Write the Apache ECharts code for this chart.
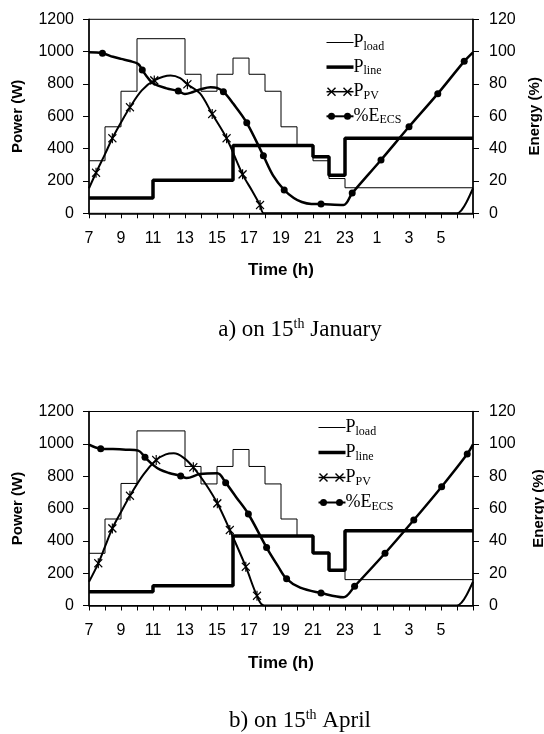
<!DOCTYPE html>
<html>
<head>
<meta charset="utf-8">
<script src="https://cdn.jsdelivr.net/npm/echarts@6/dist/echarts.min.js"></script>
<style>
  html, body { margin: 0; padding: 0; background: #fff; }
  #chart { width: 544px; height: 734px; }
</style>
</head>
<body>
<div id="chart"></div>
<script>
// Hour boundaries of the 24 h window (7 h to 7 h next morning)
const stepHours = [7, 8, 9, 10, 11, 12, 13, 14, 15, 16, 17, 18, 19, 20, 21, 22, 23, 24, 25, 26, 27, 28, 29, 30, 31];

// 15th January — hourly load and grid power (W), last value closes the final hour
const janLoad = [325, 535, 755, 1080, 1080, 1080, 860, 755, 860, 960, 860, 755, 535, 425, 325, 215, 158, 158, 158, 158, 158, 158, 158, 158, 158];
const janLine = [95, 95, 95, 95, 205, 205, 205, 205, 205, 420, 420, 420, 420, 420, 350, 235, 465, 465, 465, 465, 465, 465, 465, 465, 465];

// 15th January — PV production (W)
const janPvHours  = [7, 7.44, 8, 8.46, 9, 9.56, 10.3, 11.08, 12.1, 12.7, 13.15, 13.94, 14.7, 15.6, 16.6, 17.2, 17.69, 17.95, 30.0, 30.3, 30.6, 31];
const janPvValues = [155, 251, 366, 464, 562, 656, 760, 822, 852, 836, 798, 742, 614, 464, 241, 138, 51, 0, 0, 22, 70, 155];
const janPvMarks  = [7.44, 8.46, 9.56, 11.08, 13.15, 14.7, 15.6, 16.6, 17.69];

// 15th January — storage state of charge (%)
const janEcsHours  = [7, 7.84, 8.5, 9.0, 9.56, 10.08, 10.33, 10.7, 11.06, 11.85, 12.58, 13.0, 13.5, 14.0, 14.6, 15.0, 15.4, 16.0, 16.86, 17.9, 18.5, 19.2, 19.8, 20.3, 20.9, 21.5, 22.9, 23.45, 25.25, 27.0, 28.8, 30.45, 31];
const janEcsValues = [99.6, 99.0, 96.8, 95.5, 94.2, 92.3, 88.6, 83.5, 80.0, 77.3, 75.6, 73.8, 75.0, 76.8, 78.0, 77.6, 75.2, 68.0, 56.0, 35.6, 23.5, 14.4, 9.5, 7.0, 5.8, 5.7, 5.2, 12.5, 33.0, 53.5, 74.0, 94.0, 99.6];
const janEcsMarks  = [7.84, 10.33, 12.58, 15.4, 16.86, 17.9, 19.2, 21.5, 23.45, 25.25, 27.0, 28.8, 30.45];

// 15th April — hourly load and grid power (W)
const aprLoad = [323, 535, 755, 1080, 1080, 1080, 860, 752, 860, 965, 860, 752, 535, 430, 325, 218, 160, 160, 160, 160, 160, 160, 160, 160, 160];
const aprLine = [85, 85, 85, 85, 122, 122, 122, 122, 122, 430, 430, 430, 430, 430, 325, 218, 463, 463, 463, 463, 463, 463, 463, 463, 463];

// 15th April — PV production (W)
const aprPvHours  = [7, 7.58, 8, 8.46, 9, 9.56, 10.4, 11.2, 11.8, 12.3, 12.9, 13.52, 14.3, 15.02, 15.8, 16.8, 17.5, 17.95, 30.0, 30.3, 30.6, 31];
const aprPvValues = [147, 261, 364, 477, 578, 679, 810, 900, 935, 941, 915, 855, 750, 632, 467, 240, 60, 0, 0, 20, 65, 147];
const aprPvMarks  = [7.58, 8.46, 9.56, 11.2, 13.52, 15.02, 15.8, 16.8, 17.5];

// 15th April — storage state of charge (%)
const aprEcsHours  = [7, 7.73, 8.5, 9.3, 10.08, 10.5, 11.0, 11.44, 12.0, 12.73, 13.1, 13.94, 15.02, 15.54, 16.2, 16.96, 18.1, 18.8, 19.35, 20.2, 21.5, 22.9, 23.6, 25.5, 27.3, 29.04, 30.64, 31];
const aprEcsValues = [99.5, 97.0, 96.8, 96.4, 95.8, 91.7, 87.0, 84.0, 82.0, 80.1, 78.8, 81.3, 81.8, 76.0, 67.0, 56.6, 35.8, 24.5, 16.5, 11.0, 7.7, 5.1, 11.9, 32.3, 52.9, 73.5, 93.7, 99.7];
const aprEcsMarks  = [7.73, 10.5, 12.73, 15.54, 16.96, 18.1, 19.35, 21.5, 23.6, 25.5, 27.3, 29.04, 30.64];

// Axis ranges
const powerMax = 1200, powerStep = 200;
const energyMax = 120, energyStep = 20;

const SANS = 'Liberation Sans, Arial, sans-serif';
const SERIF = 'Liberation Serif, Times New Roman, serif';

function stepData(values) {
  return stepHours.map((h, i) => [h, values[i]]);
}
function curveData(hours, values, marks) {
  return hours.map((h, i) => marks.indexOf(h) >= 0
    ? [h, values[i]]
    : { value: [h, values[i]], symbol: 'none' });
}

const panels = [
  { top: 19.3, load: janLoad, line: janLine,
    pv: curveData(janPvHours, janPvValues, janPvMarks),
    ecs: curveData(janEcsHours, janEcsValues, janEcsMarks),
    legendX: 326.5, legendY: 42.5, legendGap: 24.6, energyGap: 54,
    caption: '{n|a) on 15}{s|th}{n| January}', captionY: 330 },
  { top: 411.5, load: aprLoad, line: aprLine,
    pv: curveData(aprPvHours, aprPvValues, aprPvMarks),
    ecs: curveData(aprEcsHours, aprEcsValues, aprEcsMarks),
    legendX: 318.5, legendY: 427.5, legendGap: 25, energyGap: 58,
    caption: '{n|b) on 15}{s|th}{n| April}', captionY: 721 }
];

const gridLeft = 89, gridWidth = 384, gridHeight = 194;
const starPath = 'path://M0,1L8,9M8,1L0,9M4,0L4,10';

const grids = [], xAxes = [], yAxes = [], series = [], graphics = [];

panels.forEach((p, c) => {
  grids.push({ left: gridLeft, top: p.top, width: gridWidth, height: gridHeight,
    containLabel: false, outerBoundsMode: 'none',
    show: true, borderColor: '#000', borderWidth: 1, backgroundColor: 'transparent' });

  xAxes.push({
    type: 'value', gridIndex: c, min: 7, max: 31, interval: 1,
    axisLine: { onZero: false, lineStyle: { color: '#000', width: 1.5 } },
    axisTick: { show: true, inside: false, length: 5, lineStyle: { color: '#000', width: 1 } },
    axisLabel: {
      color: '#000', fontFamily: SANS, fontSize: 16, margin: 17,
      formatter: v => (v % 2 === 1 && v < 31) ? String(v > 24 ? v - 24 : v) : ''
    },
    splitLine: { show: false },
    name: 'Time (h)', nameLocation: 'middle', nameGap: 49,
    nameTextStyle: { color: '#000', fontFamily: SANS, fontWeight: 'bold', fontSize: 17 }
  });

  yAxes.push({
    type: 'value', gridIndex: c, position: 'left', min: 0, max: powerMax, interval: powerStep,
    axisLine: { show: true, lineStyle: { color: '#000', width: 1.5 } },
    axisTick: { show: true, inside: false, length: 6, lineStyle: { color: '#000' } },
    axisLabel: { color: '#000', fontFamily: SANS, fontSize: 16, margin: 15, formatter: v => String(v) },
    splitLine: { show: false },
    name: 'Power (W)', nameLocation: 'middle', nameRotate: 90, nameGap: 64,
    nameTextStyle: { color: '#000', fontFamily: SANS, fontWeight: 'bold', fontSize: 15 }
  });
  yAxes.push({
    type: 'value', gridIndex: c, position: 'right', min: 0, max: energyMax, interval: energyStep,
    axisLine: { show: true, lineStyle: { color: '#000', width: 1.5 } },
    axisTick: { show: true, inside: false, length: 6, lineStyle: { color: '#000' } },
    axisLabel: { color: '#000', fontFamily: SANS, fontSize: 16, margin: 16, formatter: v => String(v) },
    splitLine: { show: false },
    name: 'Energy (%)', nameLocation: 'middle', nameRotate: 90, nameGap: p.energyGap,
    nameTextStyle: { color: '#000', fontFamily: SANS, fontWeight: 'bold', fontSize: 15 }
  });

  series.push({
    name: 'P_load', type: 'line', xAxisIndex: c, yAxisIndex: 2 * c, step: 'end',
    symbol: 'none', lineStyle: { color: '#000', width: 1 }, data: stepData(p.load), z: 2
  });
  series.push({
    name: 'P_line', type: 'line', xAxisIndex: c, yAxisIndex: 2 * c, step: 'end',
    symbol: 'none', lineStyle: { color: '#000', width: 3.5 }, data: stepData(p.line), z: 3
  });
  series.push({
    name: 'P_PV', type: 'line', xAxisIndex: c, yAxisIndex: 2 * c, smooth: 0.35,
    symbol: starPath, symbolSize: [8, 10], showAllSymbol: true,
    itemStyle: { color: '#000', borderColor: '#000', borderWidth: 1.3 },
    lineStyle: { color: '#000', width: 2 }, data: p.pv, z: 4
  });
  series.push({
    name: '%E_ECS', type: 'line', xAxisIndex: c, yAxisIndex: 2 * c + 1, smooth: 0.35,
    symbol: 'circle', symbolSize: 7, showAllSymbol: true,
    itemStyle: { color: '#000' },
    lineStyle: { color: '#000', width: 2.5 }, data: p.ecs, z: 5
  });

  // Legend block drawn inside the plot area
  const x0 = p.legendX, len = 27;
  const rows = [
    { text: '{m|P}{s|load}', width: 1 },
    { text: '{m|P}{s|line}', width: 3.5 },
    { text: '{m|P}{s|PV}', width: 1.5, mark: 'star' },
    { text: '{m|%E}{s|ECS}', width: 2, mark: 'dot' }
  ];
  rows.forEach((r, i) => {
    const y = p.legendY + i * p.legendGap;
    graphics.push({ type: 'line', shape: { x1: x0, y1: y, x2: x0 + len, y2: y },
      style: { stroke: '#000', lineWidth: r.width }, z: 10 });
    if (r.mark === 'star') {
      [x0 + 5, x0 + 21].forEach(cx => {
        graphics.push({ type: 'line', shape: { x1: cx - 4, y1: y - 4, x2: cx + 4, y2: y + 4 },
          style: { stroke: '#000', lineWidth: 1.4 }, z: 10 });
        graphics.push({ type: 'line', shape: { x1: cx - 4, y1: y + 4, x2: cx + 4, y2: y - 4 },
          style: { stroke: '#000', lineWidth: 1.4 }, z: 10 });
      });
    }
    if (r.mark === 'dot') {
      [x0 + 5, x0 + 21].forEach(cx => {
        graphics.push({ type: 'circle', shape: { cx: cx, cy: y, r: 3.5 },
          style: { fill: '#000' }, z: 10 });
      });
    }
    graphics.push({
      type: 'text', x: x0 + len, y: y, z: 10,
      style: {
        text: r.text, fill: '#000', verticalAlign: 'middle',
        rich: {
          m: { fontFamily: SERIF, fontSize: 18, lineHeight: 20, fill: '#000' },
          s: { fontFamily: SERIF, fontSize: 12, lineHeight: 11, verticalAlign: 'bottom', fill: '#000' }
        }
      }
    });
  });

  graphics.push({
    type: 'text', x: 300, y: p.captionY, z: 10,
    style: {
      text: p.caption, fill: '#000', align: 'center', verticalAlign: 'middle',
      rich: {
        n: { fontFamily: SERIF, fontSize: 23, lineHeight: 26, fill: '#000' },
        s: { fontFamily: SERIF, fontSize: 14, lineHeight: 14, verticalAlign: 'top', fill: '#000' }
      }
    }
  });
});

const chart = echarts.init(document.getElementById('chart'), null, { renderer: 'canvas' });
chart.setOption({
  animation: false,
  backgroundColor: '#fff',
  grid: grids,
  xAxis: xAxes,
  yAxis: yAxes,
  series: series,
  graphic: graphics
});
</script>
</body>
</html>
